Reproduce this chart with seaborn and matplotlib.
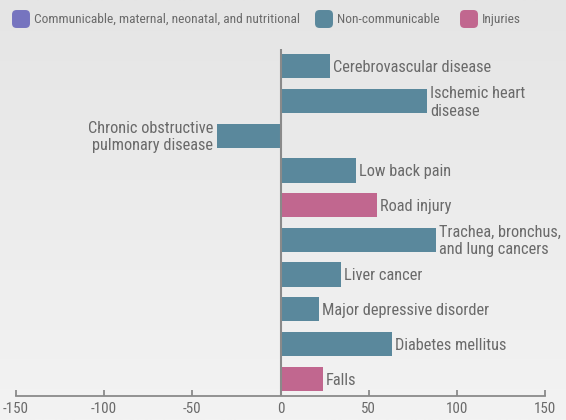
import numpy as np
import pandas as pd
import matplotlib
matplotlib.use("Agg")
import matplotlib.pyplot as plt
import seaborn as sns
from matplotlib.patches import FancyBboxPatch

causes = ["Cerebrovascular disease", "Ischemic heart\ndisease", "Chronic obstructive\npulmonary disease",
          "Low back pain", "Road injury", "Trachea, bronchus,\nand lung cancers", "Liver cancer",
          "Major depressive disorder", "Diabetes mellitus", "Falls"]
values = [28.2, 83.2, -35.9, 42.9, 54.8, 88.1, 34.4, 21.9, 63.3, 24.2]
groups = ["Non-communicable", "Non-communicable", "Non-communicable", "Non-communicable", "Injuries",
          "Non-communicable", "Non-communicable", "Non-communicable", "Non-communicable", "Injuries"]
legend_labels = ["Communicable, maternal, neonatal, and nutritional", "Non-communicable", "Injuries"]
legend_colors = ["#7674bf", "#5a889c", "#c1678f"]
xticks = [-150, -100, -50, 0, 50, 100, 150]

sns.set_theme(style="white")
plt.rcParams['font.family'] = ['Roboto Condensed', 'DejaVu Sans']
txt = "#6a6a6a"
axc = "#8a8a8a"
fs_lab = 11.8
fs_leg = 9.6
fs_tick = 10.8

df = pd.DataFrame({"cause": causes, "value": values, "group": groups})
palette = dict(zip(legend_labels, legend_colors))

fig = plt.figure(figsize=(5.66, 4.2), dpi=100)
bg = fig.add_axes([0, 0, 1, 1], zorder=-10)
grad = np.linspace(0, 1, 256).reshape(-1, 1)
bg.imshow(grad, aspect='auto', cmap=matplotlib.colors.LinearSegmentedColormap.from_list(
    "g", ["#e5e5e5", "#f3f3f3"]), extent=[0, 1, 0, 1], origin='upper')
bg.axis('off')

ax = fig.add_axes([16/566, 1-396/420, (545-16)/566, (396-49)/420])
ax.patch.set_alpha(0)
sns.barplot(data=df, x="value", y="cause", hue="group", palette=palette, dodge=False,
            width=0.7, orient="h", legend=False, ax=ax, saturation=1, linewidth=0)

ax.set_xlim(-150, 150)
ax.set_ylim(9.5, -0.5)
ax.set_xticks(xticks)
ax.set_xticklabels([str(t) for t in xticks], color=txt, fontsize=fs_tick)
ax.set_yticks([])
ax.set_xlabel("")
ax.set_ylabel("")
for s in ["top", "right", "left"]:
    ax.spines[s].set_visible(False)
ax.spines["bottom"].set_color(axc)
ax.spines["bottom"].set_linewidth(1.3)
ax.tick_params(axis='x', bottom=True, direction='in', length=4, width=1.3, color=axc, pad=4.5)
ax.axvline(0, color=axc, lw=1.5, zorder=5)

for i, (c, v) in enumerate(zip(causes, values)):
    if v >= 0:
        ax.text(v + 1.6, i + 0.04, c, ha='left', va='center', color=txt, fontsize=fs_lab, linespacing=1.2)
    else:
        ax.text(v - 2.4, i + 0.04, c, ha='right', va='center', color=txt, fontsize=fs_lab, linespacing=1.2)

# legend
legend_x = [12, 315, 460]
for x0, lab, col in zip(legend_x, legend_labels, legend_colors):
    fig.patches.append(FancyBboxPatch(((x0 + 2)/566, 1 - 26/420), 14/566, 14/420,
                                      boxstyle="round,pad=0.0035,rounding_size=0.008",
                                      transform=fig.transFigure, facecolor=col, edgecolor='none',
                                      mutation_aspect=566/420))
    fig.text((x0 + 22)/566, 1 - 19.5/420, lab, ha='left', va='center', color=txt, fontsize=fs_leg)

fig.savefig("out.png", dpi=100)
